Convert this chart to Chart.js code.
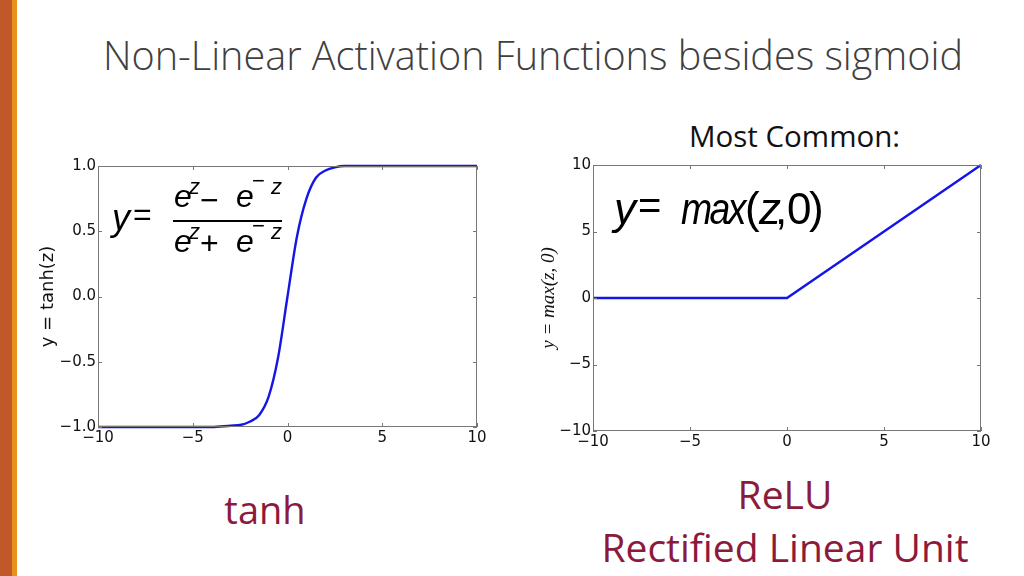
<!DOCTYPE html>
<html>
<head>
<meta charset="utf-8">
<script src="https://cdn.jsdelivr.net/npm/chart.js@4"></script>
<style>
  body { margin: 0; width: 1024px; height: 576px; position: relative; background: #fff; overflow: hidden; font-family: "Open Sans", sans-serif; }
  .bar1 { position: absolute; left: 0; top: 0; width: 12px; height: 576px; background: #c0582a; }
  .bar2 { position: absolute; left: 12px; top: 0; width: 5px; height: 576px; background: #e8921e; }
  .title { position: absolute; left: 0; width: 1066px; top: 28px; text-align: center; font-size: 39.6px; font-weight: 300; color: #404040; white-space: nowrap; }
  .common { position: absolute; left: 689px; top: 115px; font-size: 29.5px; color: #111; white-space: nowrap; }
  .box { position: absolute; }
  .g { position: absolute; font-family: "Liberation Sans", sans-serif; color: #000; white-space: nowrap; line-height: 1; }
  .name { position: absolute; color: #8c1a3c; font-size: 38px; text-align: center; white-space: nowrap; line-height: 1; }
</style>
</head>
<body>
<div class="bar1"></div><div class="bar2"></div>
<div class="title">Non-Linear Activation Functions besides sigmoid</div>
<div class="common">Most Common:</div>

<div class="box" style="left:30px;top:150px;width:470px;height:300px"><canvas id="tanhChart"></canvas></div>
<div class="box" style="left:530px;top:150px;width:470px;height:310px"><canvas id="reluChart"></canvas></div>

<!-- tanh formula -->
<div class="g" style="left:112px;top:200px;font-size:36px;font-style:italic">y</div>
<div class="g" style="left:133px;top:198px;font-size:32px">=</div>
<div class="g" style="left:174px;top:180px;font-size:32px;font-style:italic">e</div>
<div class="g" style="left:189px;top:176px;font-size:22px;font-style:italic">z</div>
<div class="g" style="left:200px;top:184px;font-size:32px">&minus;</div>
<div class="g" style="left:236px;top:180px;font-size:32px;font-style:italic">e</div>
<div class="g" style="left:252px;top:170px;font-size:22px">&minus;</div>
<div class="g" style="left:271px;top:176px;font-size:22px;font-style:italic">z</div>
<div class="g" style="left:173px;top:220px;width:109px;height:1.5px;background:#000"></div>
<div class="g" style="left:174px;top:225px;font-size:32px;font-style:italic">e</div>
<div class="g" style="left:189px;top:221px;font-size:22px;font-style:italic">z</div>
<div class="g" style="left:200px;top:227px;font-size:32px">+</div>
<div class="g" style="left:236px;top:225px;font-size:32px;font-style:italic">e</div>
<div class="g" style="left:252px;top:215px;font-size:22px">&minus;</div>
<div class="g" style="left:271px;top:221px;font-size:22px;font-style:italic">z</div>

<!-- relu formula -->
<div class="g" style="left:614px;top:187px;font-size:44px;font-style:italic">y</div>
<div class="g" style="left:638px;top:185px;font-size:40px">=</div>
<div class="g" style="left:681px;top:187px;font-size:44px;font-style:italic;letter-spacing:-3px;transform:scaleX(0.85);transform-origin:left">max</div>
<div class="g" style="left:745px;top:186px;font-size:44px">(</div>
<div class="g" style="left:759px;top:187px;font-size:44px;font-style:italic">z</div>
<div class="g" style="left:775px;top:187px;font-size:44px">,</div>
<div class="g" style="left:787px;top:187px;font-size:44px">0</div>
<div class="g" style="left:809px;top:186px;font-size:44px">)</div>

<div class="name" style="left:165px;width:200px;top:490px">tanh</div>
<div class="name" style="left:585px;width:400px;top:474px;font-size:39px">ReLU</div>
<div class="name" style="left:585px;width:400px;top:527px;font-size:39px">Rectified Linear Unit</div>

<script>
// tanh curve
const tanhZ = [-10, -5, -4, -3, -2.5, -2, -1.5, -1, -0.5, 0, 0.5, 1, 1.5, 2, 2.5, 3, 4, 5, 10];
const tanhY = [-1, -1, -1, -0.99, -0.985, -0.96, -0.91, -0.77, -0.47, 0, 0.46, 0.75, 0.91, 0.965, 0.99, 1, 1, 1, 1];

// ReLU line
const reluZ = [-10, 0, 10];
const reluY = [0, 0, 10];

const xTicks = [-10, -5, 0, 5, 10];
const tanhTicks = [-1, -0.5, 0, 0.5, 1];
const reluTicks = [-10, -5, 0, 5, 10];

function minus(s) { return String(s).replace('-', '\u2212'); }

// matplotlib style: frame + inward ticks on all four sides
const frameTicks = {
  id: 'frameTicks',
  afterDraw(chart) {
    const a = chart.chartArea, c = chart.ctx;
    const xs = chart.scales.x, ys = chart.scales.y;
    c.save();
    c.strokeStyle = '#777';
    c.lineWidth = 1;
    c.strokeRect(a.left + 0.5, a.top + 0.5, a.right - a.left - 1, a.bottom - a.top - 1);
    c.beginPath();
    xs.ticks.forEach(t => {
      const px = Math.round(xs.getPixelForValue(t.value)) + 0.5;
      c.moveTo(px, a.bottom); c.lineTo(px, a.bottom - 4);
      c.moveTo(px, a.top); c.lineTo(px, a.top + 4);
    });
    ys.ticks.forEach(t => {
      const py = Math.round(ys.getPixelForValue(t.value)) + 0.5;
      c.moveTo(a.left, py); c.lineTo(a.left + 4, py);
      c.moveTo(a.right, py); c.lineTo(a.right - 4, py);
    });
    c.stroke();
    c.restore();
  }
};

function makeChart(id, w, h, xs, ys, smooth, yTicks, yMin, yMax, yFmt, yTitle, yTitleFont, titlePad, areaTop, areaRight, yWidth, xHeight) {
  const cv = document.getElementById(id);
  cv.width = w; cv.height = h;
  cv.style.width = w + 'px'; cv.style.height = h + 'px';
  const pts = xs.map((x, i) => ({ x: x, y: ys[i] }));
  return new Chart(cv, {
    type: 'line',
    data: { datasets: [{ data: pts, borderColor: '#1515e6', borderWidth: 2.4, pointRadius: 0,
      cubicInterpolationMode: smooth ? 'monotone' : 'default', tension: 0, clip: false }] },
    options: {
      responsive: false,
      animation: false,
      layout: { padding: { top: areaTop, right: areaRight, left: 0, bottom: 0 } },
      plugins: { legend: { display: false }, tooltip: { enabled: false } },
      scales: {
        x: {
          type: 'linear', min: -10, max: 10,
          afterBuildTicks: s => { s.ticks = xTicks.map(v => ({ value: v })); },
          afterFit: s => { s.height = xHeight; },
          grid: { display: false, drawTicks: false },
          border: { display: false },
          ticks: { padding: 2, color: '#111', font: { family: 'DejaVu Sans', size: 15 }, maxRotation: 0, callback: v => minus(v) }
        },
        y: {
          type: 'linear', min: yMin, max: yMax,
          afterBuildTicks: s => { s.ticks = yTicks.map(v => ({ value: v })); },
          afterFit: s => { s.width = yWidth; },
          grid: { display: false, drawTicks: false },
          border: { display: false },
          title: { display: true, text: yTitle, color: '#111', font: yTitleFont, padding: { top: titlePad, bottom: 0 } },
          ticks: { padding: 2, color: '#111', font: { family: 'DejaVu Sans', size: 15 }, callback: yFmt }
        }
      }
    },
    plugins: [frameTicks]
  });
}

makeChart('tanhChart', 470, 300, tanhZ, tanhY, true, tanhTicks, -1, 1, v => minus(v.toFixed(1)), 'y = tanh(z)',
  { family: 'DejaVu Sans', size: 18 }, 8, 16, 23, 68, 23);
makeChart('reluChart', 470, 310, reluZ, reluY, false, reluTicks, -10, 10, v => minus(v), 'y = max(z, 0)',
  { family: 'Liberation Serif', size: 19, style: 'italic' }, 8, 15, 19, 63, 29);
</script>
</body>
</html>
